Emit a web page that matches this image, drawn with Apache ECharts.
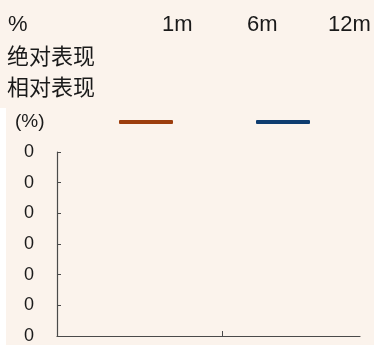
<!DOCTYPE html>
<html>
<head>
<meta charset="utf-8">
<script src="https://cdn.jsdelivr.net/npm/echarts@6/dist/echarts.min.js"></script>
<style>
  html, body { margin: 0; padding: 0; background: #ffffff; }
  #chart { width: 374px; height: 345px; }
</style>
</head>
<body>
<div id="chart"></div>
<script>
// Performance table header and rows (values not available)
const tableHeader = ['%', '1m', '6m', '12m'];
const tableRows = ['绝对表现', '相对表现'];

// Price-performance chart: monthly categories, two series
const months = ['M1', 'M2', 'M3', 'M4', 'M5', 'M6', 'M7', 'M8', 'M9', 'M10', 'M11', 'M12'];
const absoluteSeries = [];
const relativeSeries = [];
const seriesNames = ['绝对表现', '相对表现'];
const seriesColors = ['#9C3D0D', '#0E3C6F'];

// y axis range in percent
const yMin = 0;
const yMax = 0.06;
const yStep = 0.01;

const FONT = '"Liberation Sans", Arial, sans-serif';
const CJK = '"Noto Sans CJK SC", sans-serif';
const INK = '#1a1a1a';
const AXIS = '#4a4a4a';

const headerX = [8, 162, 247, 328];
const graphics = [
  // left margin strip beside the chart
  { type: 'rect', left: 0, top: 108, shape: { width: 6, height: 237 }, style: { fill: '#ffffff' }, silent: true }
];
tableHeader.forEach((t, i) => {
  graphics.push({ type: 'text', left: headerX[i], top: 14,
    style: { text: t, font: '22px ' + FONT, fill: INK } });
});
tableRows.forEach((t, i) => {
  graphics.push({ type: 'text', left: 7, top: 45 + i * 31,
    style: { text: t, font: '22px ' + CJK, fill: INK } });
});
graphics.push({ type: 'text', left: 15, top: 112,
  style: { text: '(%)', font: '19px ' + FONT, fill: INK } });

const chart = echarts.init(document.getElementById('chart'), null, { renderer: 'canvas' });
chart.setOption({
  backgroundColor: '#FBF3EC',
  animation: false,
  graphic: graphics,
  legend: {
    left: 114,
    top: 115,
    itemWidth: 54,
    itemHeight: 4,
    itemGap: 83,
    icon: 'roundRect',
    formatter: () => '',
    data: seriesNames
  },
  grid: { left: 57, right: 14, top: 152, bottom: 8, containLabel: false },
  xAxis: {
    type: 'category',
    data: months,
    boundaryGap: false,
    axisLine: { lineStyle: { color: AXIS, width: 1.2 } },
    axisTick: { inside: true, length: 5, interval: 5, lineStyle: { color: AXIS } },
    axisLabel: { show: false },
    splitLine: { show: false }
  },
  yAxis: {
    type: 'value',
    min: yMin,
    max: yMax,
    interval: yStep,
    axisLine: { show: true, lineStyle: { color: AXIS, width: 1.2 } },
    axisTick: { show: true, inside: true, length: 4, lineStyle: { color: AXIS } },
    axisLabel: {
      margin: 23,
      color: INK,
      fontSize: 18,
      fontFamily: FONT,
      formatter: v => v.toFixed(0)
    },
    splitLine: { show: false }
  },
  series: [
    { name: seriesNames[0], type: 'line', data: absoluteSeries, showSymbol: false,
      itemStyle: { color: seriesColors[0] }, lineStyle: { color: seriesColors[0], width: 3 } },
    { name: seriesNames[1], type: 'line', data: relativeSeries, showSymbol: false,
      itemStyle: { color: seriesColors[1] }, lineStyle: { color: seriesColors[1], width: 3 } }
  ]
});
</script>
</body>
</html>
